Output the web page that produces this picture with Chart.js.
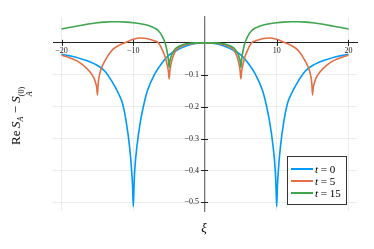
<!DOCTYPE html>
<html>
<head>
<meta charset="utf-8">
<script src="https://cdn.jsdelivr.net/npm/chart.js@4.4.1/dist/chart.umd.min.js"></script>
<style>
html, body { margin: 0; padding: 0; background: #fff; }
#wrap { position: relative; width: 374px; height: 249px; font-family: "Liberation Serif", serif; color: #000; }
canvas { position: absolute; left: 0; top: 0; }
.ylab { position: absolute; left: 21px; top: 116px; transform: translate(-50%, -50%) rotate(-90deg); font-size: 13px; white-space: nowrap; }
.ylab i { font-style: italic; }
.ss { display: inline-flex; flex-direction: column; vertical-align: -4px; font-size: 8px; line-height: 8px; }
.ss.one { vertical-align: -3px; }
.xlab { position: absolute; left: 204px; top: 228px; transform: translate(-50%, -50%); font-size: 13px; font-style: italic; }
#legend { position: absolute; left: 287px; top: 156px; width: 58px; height: 47px; border: 1px solid #333; background: #fff; }
.row { position: absolute; left: 3px; height: 12px; display: flex; align-items: center; font-size: 11px; white-space: nowrap; }
.row span.ln { display: inline-block; width: 22px; height: 2px; margin-right: 2px; }
.row i { font-style: italic; }
</style>
</head>
<body>
<div id="wrap">
  <canvas id="c" width="374" height="249"></canvas>
  <div class="ylab">Re&thinsp;<i>S</i><span class="ss one"><i>A</i></span> − <i>S</i><span class="ss"><span>(0)</span><i>A</i></span></div>
  <div class="xlab">ξ</div>
  <div id="legend"></div>
</div>
<script>
const seriesNames = ["0", "5", "15"];
const xTicks = [-20, -10, 0, 10, 20];
const yTicks = [-0.5, -0.4, -0.3, -0.2, -0.1, 0];

// t = 0
const xBlue = [-20,-19,-18,-17,-16,-15,-14,-13,-12,-11.5,-11,-10.5,-10.2,-10.1,-10,-9.9,-9.8,-9.5,-9,-8.5,-8,-7,-6,-5,-4,-3,-2,-1,0,
               1,2,3,4,5,6,7,8,8.5,9,9.5,9.8,9.9,10,10.1,10.2,10.5,11,11.5,12,13,14,15,16,17,18,19,20];
const yBlue = [-0.036,-0.040,-0.045,-0.052,-0.060,-0.071,-0.088,-0.120,-0.162,-0.190,-0.245,-0.330,-0.410,-0.450,-0.513,-0.450,-0.400,-0.325,-0.245,-0.190,-0.148,-0.097,-0.063,-0.038,-0.024,-0.013,-0.005,-0.001,0,
               -0.001,-0.005,-0.013,-0.024,-0.038,-0.063,-0.097,-0.148,-0.190,-0.245,-0.325,-0.400,-0.450,-0.513,-0.450,-0.410,-0.330,-0.245,-0.190,-0.162,-0.120,-0.088,-0.071,-0.060,-0.052,-0.045,-0.040,-0.036];

// t = 5
const xOrange = [-20,-19,-18,-17,-16,-15.5,-15.2,-15.1,-15,-14.9,-14.8,-14.5,-14,-13,-12,-11,-10,-9,-8,-7,-6.5,-6,-5.5,-5.2,-5.1,-5,-4.9,-4.8,-4.5,-4,-3,-2,-1,0,
                 1,2,3,4,4.5,4.8,4.9,5,5.1,5.2,5.5,6,6.5,7,8,9,10,11,12,13,14,14.5,14.8,14.9,15,15.1,15.2,15.5,16,17,18,19,20];
const yOrange = [-0.039,-0.046,-0.055,-0.070,-0.092,-0.110,-0.130,-0.140,-0.163,-0.128,-0.110,-0.082,-0.058,-0.024,-0.008,0.002,0.011,0.015,0.013,0.006,0.000,-0.020,-0.048,-0.078,-0.090,-0.113,-0.088,-0.073,-0.045,-0.022,-0.008,-0.003,-0.001,0,
                 -0.001,-0.003,-0.008,-0.022,-0.045,-0.073,-0.088,-0.113,-0.090,-0.078,-0.048,-0.020,0.000,0.006,0.013,0.015,0.011,0.002,-0.008,-0.024,-0.058,-0.082,-0.110,-0.128,-0.163,-0.140,-0.130,-0.110,-0.092,-0.070,-0.055,-0.046,-0.039];

// t = 15
const xGreen = [-20,-19,-18,-17,-16,-15,-14,-13,-12,-11,-10,-9,-8,-7,-6.5,-6,-5.5,-5.2,-5.1,-5,-4.9,-4.8,-4.5,-4,-3,-2,-1,0,
                1,2,3,4,4.5,4.8,4.9,5,5.1,5.2,5.5,6,6.5,7,8,9,10,11,12,13,14,15,16,17,18,19,20];
const yGreen = [0.043,0.048,0.052,0.056,0.060,0.063,0.065,0.066,0.066,0.065,0.063,0.060,0.055,0.046,0.038,0.022,-0.005,-0.038,-0.055,-0.077,-0.058,-0.048,-0.030,-0.016,-0.005,-0.001,0,0,
                0,-0.001,-0.005,-0.016,-0.030,-0.048,-0.058,-0.077,-0.055,-0.038,-0.005,0.022,0.038,0.046,0.055,0.060,0.063,0.065,0.066,0.066,0.065,0.063,0.060,0.056,0.052,0.048,0.043];

const colors = ["#009AFA", "#E36F47", "#3EA44E"];
const xs = [xBlue, xOrange, xGreen];
const ys = [yBlue, yOrange, yGreen];

const fmt = v => v === 0 ? "" : (v < 0 ? "\u2212" : "") + Math.abs(v);

const datasets = ys.map((y, i) => ({
  label: "t = " + seriesNames[i],
  data: y.map((v, j) => ({ x: xs[i][j], y: v })),
  borderColor: colors[i],
  backgroundColor: colors[i],
  borderWidth: 1.6,
  pointRadius: 0,
  cubicInterpolationMode: "monotone",
  fill: false,
  order: 2 - i
}));

const tickFont = { family: "Liberation Serif", size: 8 };

// y labels left of the crossing axis, and tick marks across both axes
const axisTicks = {
  id: "axisTicks",
  afterDraw(chart) {
    const { ctx, scales: { x, y } } = chart;
    const ax = x.getPixelForValue(0), ay = y.getPixelForValue(0);
    ctx.save();
    ctx.strokeStyle = "#222";
    ctx.lineWidth = 1;
    ctx.beginPath();
    yTicks.forEach(v => {
      if (v === 0) return;
      const py = Math.round(y.getPixelForValue(v)) + 0.5;
      ctx.moveTo(ax - 4, py); ctx.lineTo(ax + 3, py);
    });
    xTicks.forEach(v => {
      if (v === 0) return;
      const px = Math.round(x.getPixelForValue(v)) + 0.5;
      ctx.moveTo(px, ay - 3); ctx.lineTo(px, ay + 3);
    });
    ctx.stroke();
    ctx.font = '8px "Liberation Serif"';
    ctx.fillStyle = "#222";
    ctx.textAlign = "right";
    ctx.textBaseline = "middle";
    yTicks.forEach(v => { if (v !== 0) ctx.fillText(fmt(v), ax - 6, y.getPixelForValue(v)); });
    ctx.restore();
  }
};

new Chart(document.getElementById("c"), {
  type: "line",
  data: { datasets },
  options: {
    responsive: false,
    animation: false,
    devicePixelRatio: 1,
    layout: { padding: { left: 53, right: 17, top: 17, bottom: 38 } },
    plugins: { legend: { display: false }, tooltip: { enabled: false } },
    scales: {
      x: {
        type: "linear",
        min: -21.2, max: 21.2,
        position: { y: 0 },
        afterBuildTicks: s => { s.ticks = xTicks.map(v => ({ value: v })); },
        ticks: { callback: fmt, font: tickFont, color: "#222", padding: 3, maxRotation: 0, autoSkip: false },
        grid: { color: "#ececec", lineWidth: 1, drawTicks: false },
        border: { color: "#222", width: 1 }
      },
      y: {
        type: "linear",
        min: -0.527, max: 0.081,
        position: { x: 0 },
        afterBuildTicks: s => { s.ticks = yTicks.map(v => ({ value: v })); },
        ticks: { display: false },
        grid: { color: "#ececec", lineWidth: 1, drawTicks: false },
        border: { color: "#777", width: 1.2 }
      }
    }
  },
  plugins: [axisTicks]
});

const legend = document.getElementById("legend");
datasets.forEach((d, i) => {
  const row = document.createElement("div");
  row.className = "row";
  row.style.top = (5.5 + i * 12.3) + "px";
  row.innerHTML = `<span class="ln" style="background:${d.borderColor}"></span><i>t</i>&nbsp;=&nbsp;${seriesNames[i]}`;
  legend.appendChild(row);
});
</script>
</body>
</html>
